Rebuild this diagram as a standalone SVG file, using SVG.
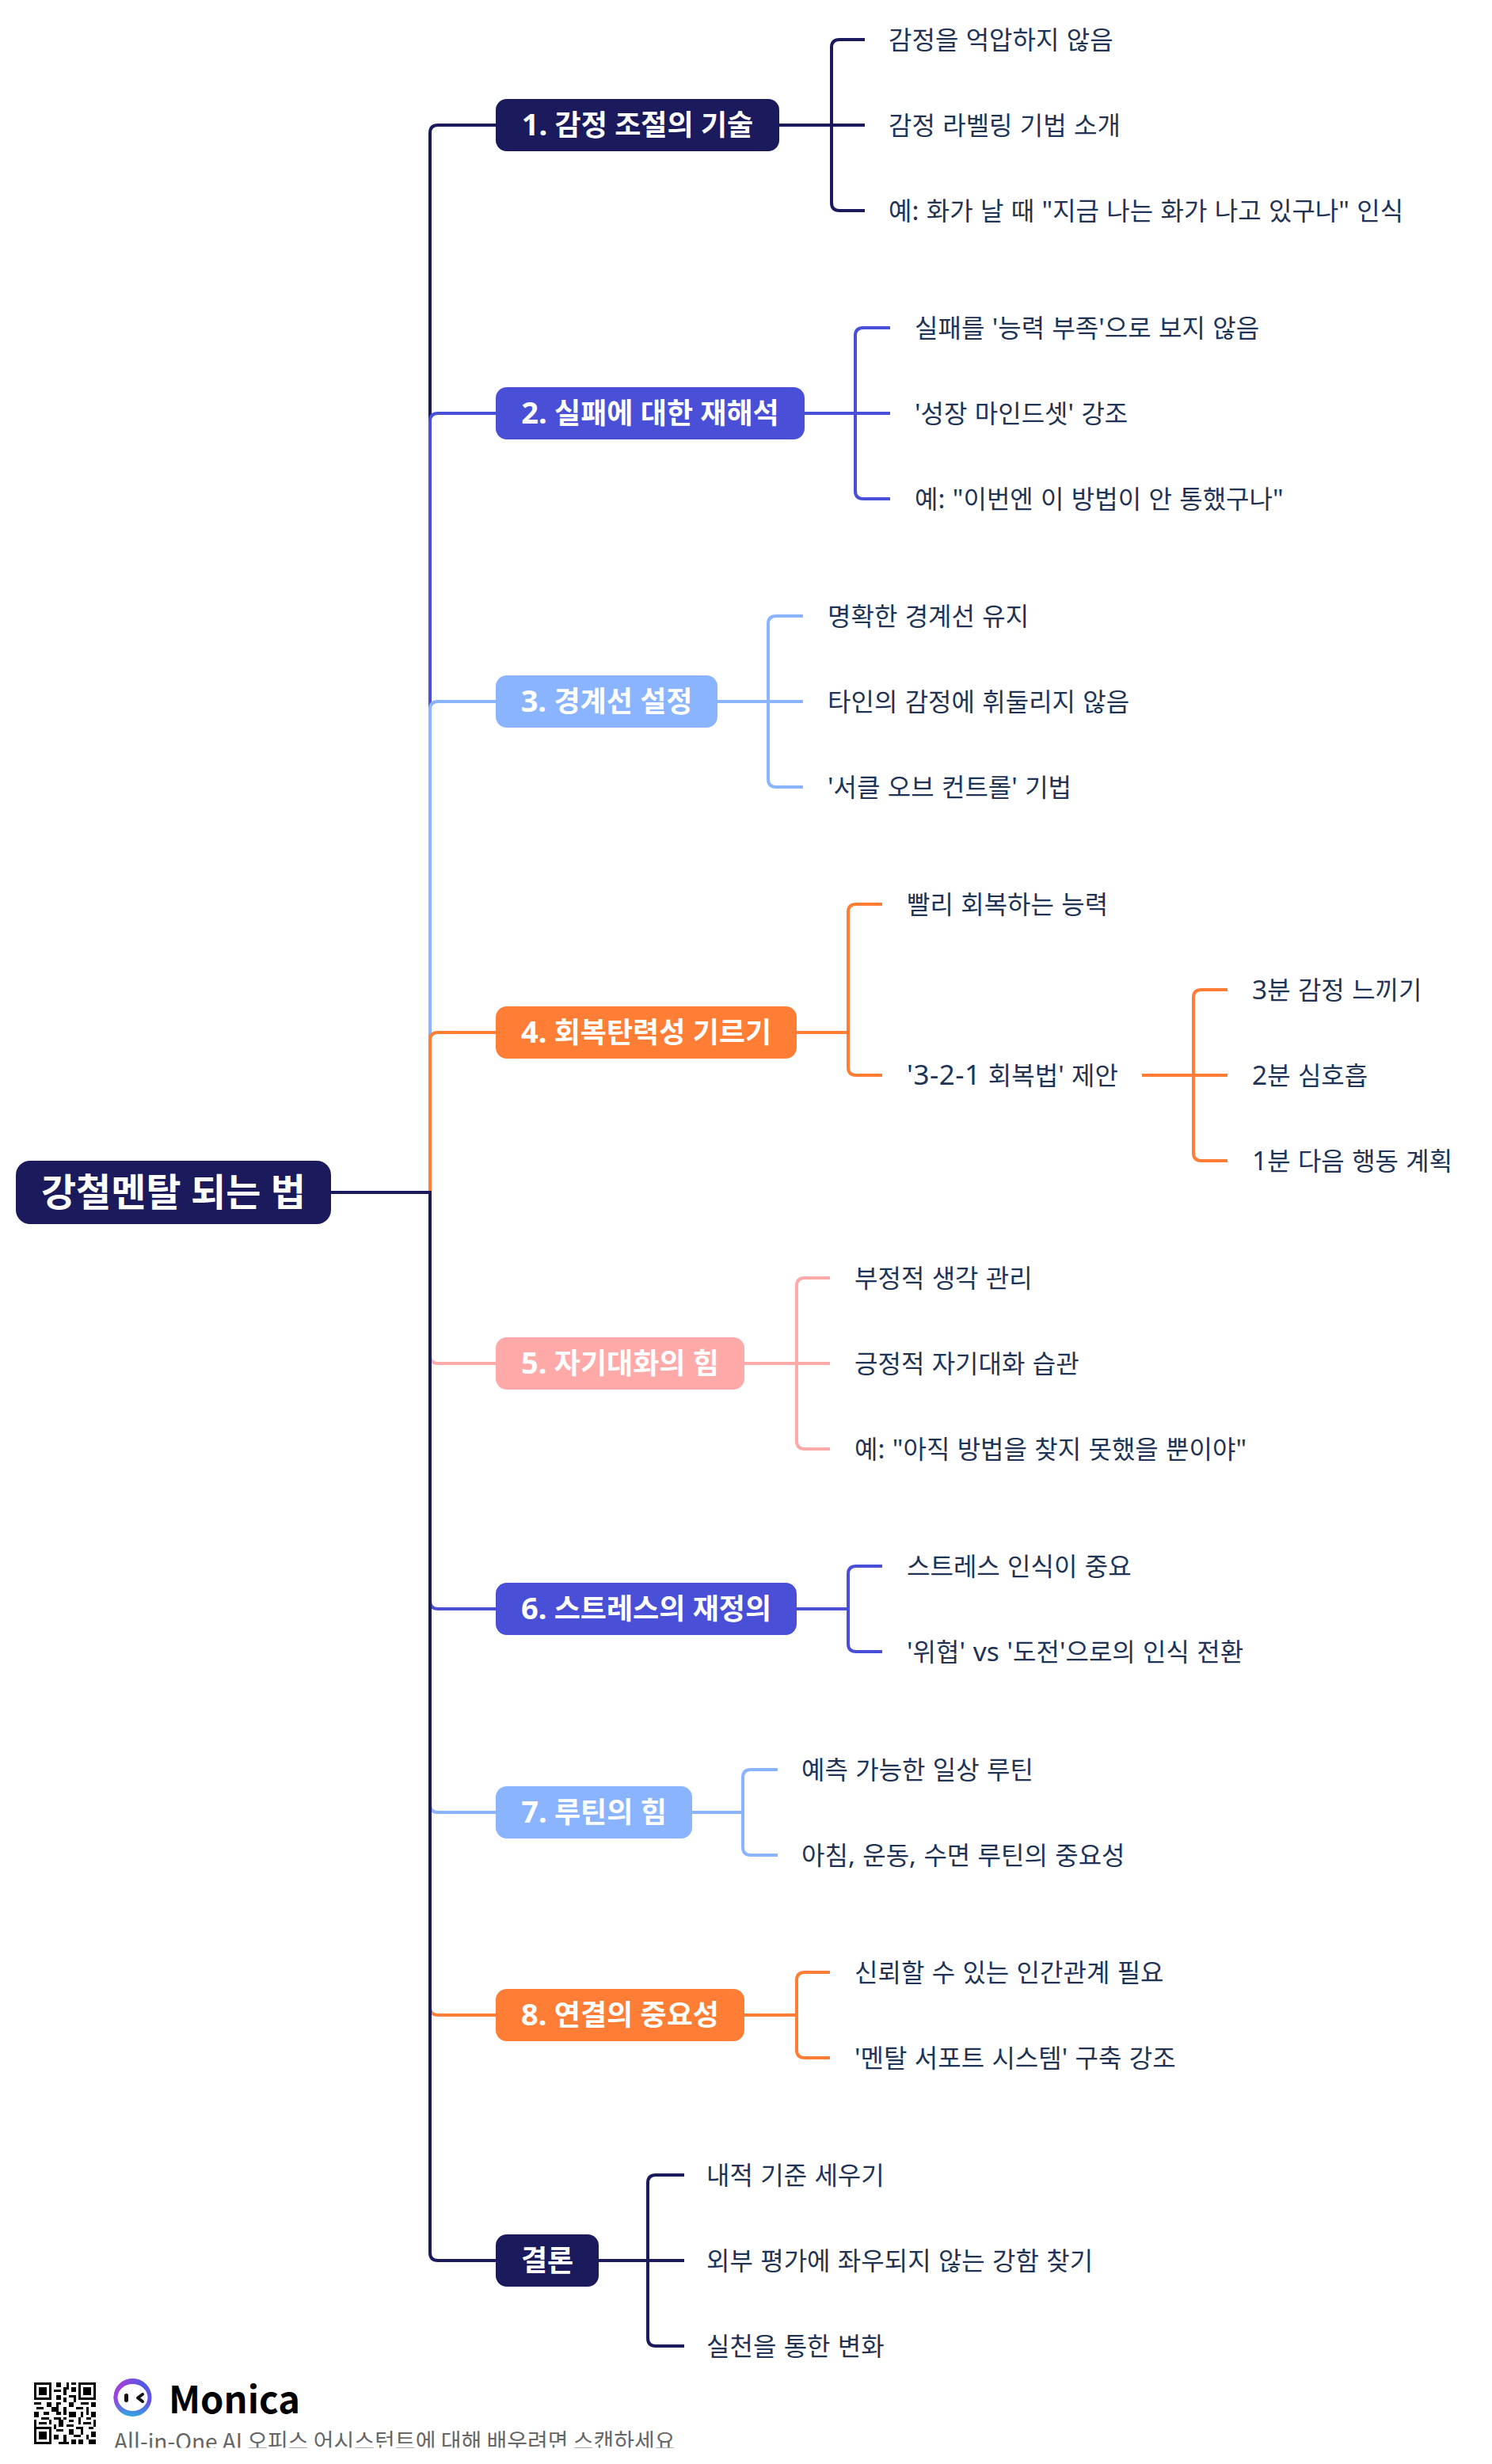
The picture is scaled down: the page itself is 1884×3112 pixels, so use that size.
<svg xmlns="http://www.w3.org/2000/svg" width="1884" height="3112" viewBox="0 0 1884 3112">
<style>
text{font-family:"Noto Sans","Noto Sans CJK KR",sans-serif}
.t{font-size:32px;fill:#1f3454;word-spacing:1px}
.a{font-size:33.5px}
.d{font-size:35px;letter-spacing:.5px}
.n{font-size:36px;font-weight:700;fill:#fff}
.b{font-size:38px}
.l{fill:none;stroke-width:4}
</style>
<defs>
<linearGradient id="g" x1="0.7" y1="0" x2="0.5" y2="1"><stop offset="0" stop-color="#4a5be8"/><stop offset="0.55" stop-color="#6a4fe0"/><stop offset="1" stop-color="#30a8e0"/></linearGradient>
<linearGradient id="g2" x1="0" y1="0.3" x2="1" y2="0.9"><stop offset="0" stop-color="#a63fd8" stop-opacity="1"/><stop offset="0.5" stop-color="#a63fd8" stop-opacity="0"/></linearGradient>
<clipPath id="c"><rect x="0" y="3000" width="1000" height="91.5"/></clipPath>
</defs>
<rect width="1884" height="3112" fill="#fff"/>
<g id="connectors">
<path class="l" stroke="#1a1a5c" d="M626 158H553Q543 158 543 168V1506"/>
<path class="l" stroke="#4a4fd8" d="M626 522H553Q543 522 543 532V1506"/>
<path class="l" stroke="#8ab4ff" d="M626 886H553Q543 886 543 896V1506"/>
<path class="l" stroke="#ff7d35" d="M626 1304H553Q543 1304 543 1314V1506"/>
<path class="l" stroke="#ffa9a9" d="M626 1722H553Q543 1722 543 1712V1506"/>
<path class="l" stroke="#4a4fd8" d="M626 2032H553Q543 2032 543 2022V1506"/>
<path class="l" stroke="#8ab4ff" d="M626 2289H553Q543 2289 543 2279V1506"/>
<path class="l" stroke="#ff7d35" d="M626 2545H553Q543 2545 543 2535V1506"/>
<path class="l" stroke="#1a1a5c" d="M626 2855H553Q543 2855 543 2845V1506H418"/>
<path class="l" stroke="#1a1a5c" d="M984 158H1092M1092 50H1060Q1050 50 1050 60V256Q1050 266 1060 266H1092"/>
<path class="l" stroke="#4a4fd8" d="M1016 522H1124M1124 414H1090Q1080 414 1080 424V620Q1080 630 1090 630H1124"/>
<path class="l" stroke="#8ab4ff" d="M906 886H1014M1014 778H980Q970 778 970 788V984Q970 994 980 994H1014"/>
<path class="l" stroke="#ff7d35" d="M1006 1304H1071M1114 1142H1081Q1071 1142 1071 1152V1348Q1071 1358 1081 1358H1114"/>
<path class="l" stroke="#ff7d35" d="M1442 1358H1550M1550 1250H1517Q1507 1250 1507 1260V1456Q1507 1466 1517 1466H1550"/>
<path class="l" stroke="#ffa9a9" d="M940 1722H1048M1048 1614H1016Q1006 1614 1006 1624V1820Q1006 1830 1016 1830H1048"/>
<path class="l" stroke="#4a4fd8" d="M1006 2032H1071M1114 1978H1081Q1071 1978 1071 1988V2076Q1071 2086 1081 2086H1114"/>
<path class="l" stroke="#8ab4ff" d="M874 2289H938M982 2235H948Q938 2235 938 2245V2333Q938 2343 948 2343H982"/>
<path class="l" stroke="#ff7d35" d="M940 2545H1006M1048 2491H1016Q1006 2491 1006 2501V2589Q1006 2599 1016 2599H1048"/>
<path class="l" stroke="#1a1a5c" d="M756 2855H864M864 2747H828Q818 2747 818 2757V2953Q818 2963 828 2963H864"/>
</g>
<g id="root"><rect x="20" y="1466" width="398" height="80" rx="18" fill="#1a1a5c"/><text class="n" style="font-size:48px" x="219" y="1523" text-anchor="middle">강철멘탈 되는 법</text></g>
<g id="n1"><rect x="626" y="125" width="358" height="66" rx="14" fill="#1a1a5c"/><text class="n" x="805" y="171" text-anchor="middle"><tspan class="b">1.</tspan> 감정 조절의 기술</text></g>
<g id="n2"><rect x="626" y="489" width="390" height="66" rx="14" fill="#4a4fd8"/><text class="n" x="821" y="535" text-anchor="middle"><tspan class="b">2.</tspan> 실패에 대한 재해석</text></g>
<g id="n3"><rect x="626" y="853" width="280" height="66" rx="14" fill="#8ab4ff"/><text class="n" x="766" y="899" text-anchor="middle"><tspan class="b">3.</tspan> 경계선 설정</text></g>
<g id="n4"><rect x="626" y="1271" width="380" height="66" rx="14" fill="#ff7d35"/><text class="n" x="816" y="1317" text-anchor="middle"><tspan class="b">4.</tspan> 회복탄력성 기르기</text></g>
<g id="n5"><rect x="626" y="1689" width="314" height="66" rx="14" fill="#ffa9a9"/><text class="n" x="783" y="1735" text-anchor="middle"><tspan class="b">5.</tspan> 자기대화의 힘</text></g>
<g id="n6"><rect x="626" y="1999" width="380" height="66" rx="14" fill="#4a4fd8"/><text class="n" x="816" y="2045" text-anchor="middle"><tspan class="b">6.</tspan> 스트레스의 재정의</text></g>
<g id="n7"><rect x="626" y="2256" width="248" height="66" rx="14" fill="#8ab4ff"/><text class="n" x="750" y="2302" text-anchor="middle"><tspan class="b">7.</tspan> 루틴의 힘</text></g>
<g id="n8"><rect x="626" y="2512" width="314" height="66" rx="14" fill="#ff7d35"/><text class="n" x="783" y="2558" text-anchor="middle"><tspan class="b">8.</tspan> 연결의 중요성</text></g>
<g id="n9"><rect x="626" y="2822" width="130" height="66" rx="14" fill="#1a1a5c"/><text class="n" x="691" y="2868" text-anchor="middle">결론</text></g>
<g id="leaves">
<text class="t" x="1122" y="62">감정을 억압하지 않음</text>
<text class="t" x="1122" y="170">감정 라벨링 기법 소개</text>
<text class="t" x="1122" y="278">예<tspan class="a">:</tspan> 화가 날 때 <tspan class="a">"</tspan>지금 나는 화가 나고 있구나<tspan class="a">"</tspan> 인식</text>
<text class="t" x="1155" y="426">실패를 <tspan class="a">'</tspan>능력 부족<tspan class="a">'</tspan>으로 보지 않음</text>
<text class="t" x="1155" y="534"><tspan class="a">'</tspan>성장 마인드셋<tspan class="a">'</tspan> 강조</text>
<text class="t" x="1155" y="642">예<tspan class="a">:</tspan> <tspan class="a">"</tspan>이번엔 이 방법이 안 통했구나<tspan class="a">"</tspan></text>
<text class="t" x="1045" y="790">명확한 경계선 유지</text>
<text class="t" x="1045" y="898">타인의 감정에 휘둘리지 않음</text>
<text class="t" x="1045" y="1006"><tspan class="a">'</tspan>서클 오브 컨트롤<tspan class="a">'</tspan> 기법</text>
<text class="t" x="1145" y="1154">빨리 회복하는 능력</text>
<text class="t" x="1145" y="1370"><tspan class="d">'3-2-1</tspan> 회복법<tspan class="a">'</tspan> 제안</text>
<text class="t" x="1581" y="1262"><tspan class="a">3</tspan>분 감정 느끼기</text>
<text class="t" x="1581" y="1370"><tspan class="a">2</tspan>분 심호흡</text>
<text class="t" x="1581" y="1478"><tspan class="a">1</tspan>분 다음 행동 계획</text>
<text class="t" x="1079" y="1626">부정적 생각 관리</text>
<text class="t" x="1079" y="1734">긍정적 자기대화 습관</text>
<text class="t" x="1079" y="1842">예<tspan class="a">:</tspan> <tspan class="a">"</tspan>아직 방법을 찾지 못했을 뿐이야<tspan class="a">"</tspan></text>
<text class="t" x="1145" y="1990">스트레스 인식이 중요</text>
<text class="t" x="1145" y="2098"><tspan class="a">'</tspan>위협<tspan class="a">' vs '</tspan>도전<tspan class="a">'</tspan>으로의 인식 전환</text>
<text class="t" x="1012" y="2247">예측 가능한 일상 루틴</text>
<text class="t" x="1012" y="2355">아침<tspan class="a">,</tspan> 운동<tspan class="a">,</tspan> 수면 루틴의 중요성</text>
<text class="t" x="1079" y="2503">신뢰할 수 있는 인간관계 필요</text>
<text class="t" x="1079" y="2611"><tspan class="a">'</tspan>멘탈 서포트 시스템<tspan class="a">'</tspan> 구축 강조</text>
<text class="t" x="892" y="2759">내적 기준 세우기</text>
<text class="t" x="892" y="2867">외부 평가에 좌우되지 않는 강함 찾기</text>
<text class="t" x="892" y="2975">실천을 통한 변화</text>
</g>
<g id="footer">
<g transform="translate(43 3009) scale(3.12)" fill="#000" shape-rendering="crispEdges">
<path fill-rule="evenodd" d="M0 0h7v7h-7zM1 1v5h5v-5zM2 2h3v3h-3zM18 0h7v7h-7zM19 1v5h5v-5zM20 2h3v3h-3zM0 18h7v7h-7zM1 19v5h5v-5zM2 20h3v3h-3z"/>
<path d="M9 0h2v2h-2zM13 0h1v3h-1zM15 0h2v1h-2zM8 3h3v1h-3zM12 2h1v3h-1zM15 2h2v2h-2zM9 5h2v2h-2zM14 5h3v1h-3zM12 6h1v2h-1zM16 6h1v2h-1zM0 8h3v1h-3zM5 8h2v2h-2zM9 8h2v1h-2zM14 8h2v2h-2zM19 8h3v1h-3zM23 8h2v2h-2zM1 10h3v1h-3zM7 10h3v2h-3zM12 10h1v3h-1zM17 10h3v1h-3zM21 10h1v3h-1zM0 12h2v2h-2zM4 12h2v1h-2zM9 12h2v1h-2zM14 12h3v2h-3zM19 12h1v2h-1zM23 12h2v2h-2zM3 14h3v1h-3zM8 14h3v1h-3zM12 14h1v1h-1zM18 14h1v3h-1zM21 14h2v1h-2zM0 15h1v3h-1zM6 15h1v2h-1zM10 15h2v3h-2zM14 15h2v1h-2zM20 16h3v1h-3zM2 16h3v1h-3zM8 17h1v2h-1zM13 17h3v1h-3zM24 15h1v3h-1zM17 18h3v1h-3zM22 18h2v1h-2zM9 19h3v1h-3zM14 19h2v2h-2zM19 19h1v2h-1zM23 20h2v2h-2zM8 21h2v2h-2zM12 21h1v3h-1zM16 21h3v1h-3zM21 21h1v2h-1zM10 24h4v1h-4zM15 23h2v2h-2zM18 23h2v2h-2zM22 23h3v2h-3zM9 9h1v1h-1z"/>
</g>
<circle cx="167.5" cy="3028" r="24" fill="url(#g)"/><circle cx="167.5" cy="3028" r="24" fill="url(#g2)"/>
<ellipse cx="167.5" cy="3028" rx="19" ry="17" fill="#fff"/>
<rect x="157" y="3023" width="5" height="11" rx="2.5" fill="#111"/>
<path d="M180 3024L174 3028.5L180 3033" fill="none" stroke="#111" stroke-width="4" stroke-linecap="round" stroke-linejoin="round"/>
<text x="213" y="3048" style="font-family:'Noto Sans CJK KR','Noto Sans',sans-serif;font-size:47px;font-weight:700;fill:#000">Monica</text>
<text clip-path="url(#c)" x="144" y="3094" style="font-family:'Noto Sans CJK KR','Noto Sans',sans-serif;font-size:28px;fill:#666">All-in-One AI 오피스 어시스턴트에 대해 배우려면 스캔하세요</text>
</g>
</svg>
